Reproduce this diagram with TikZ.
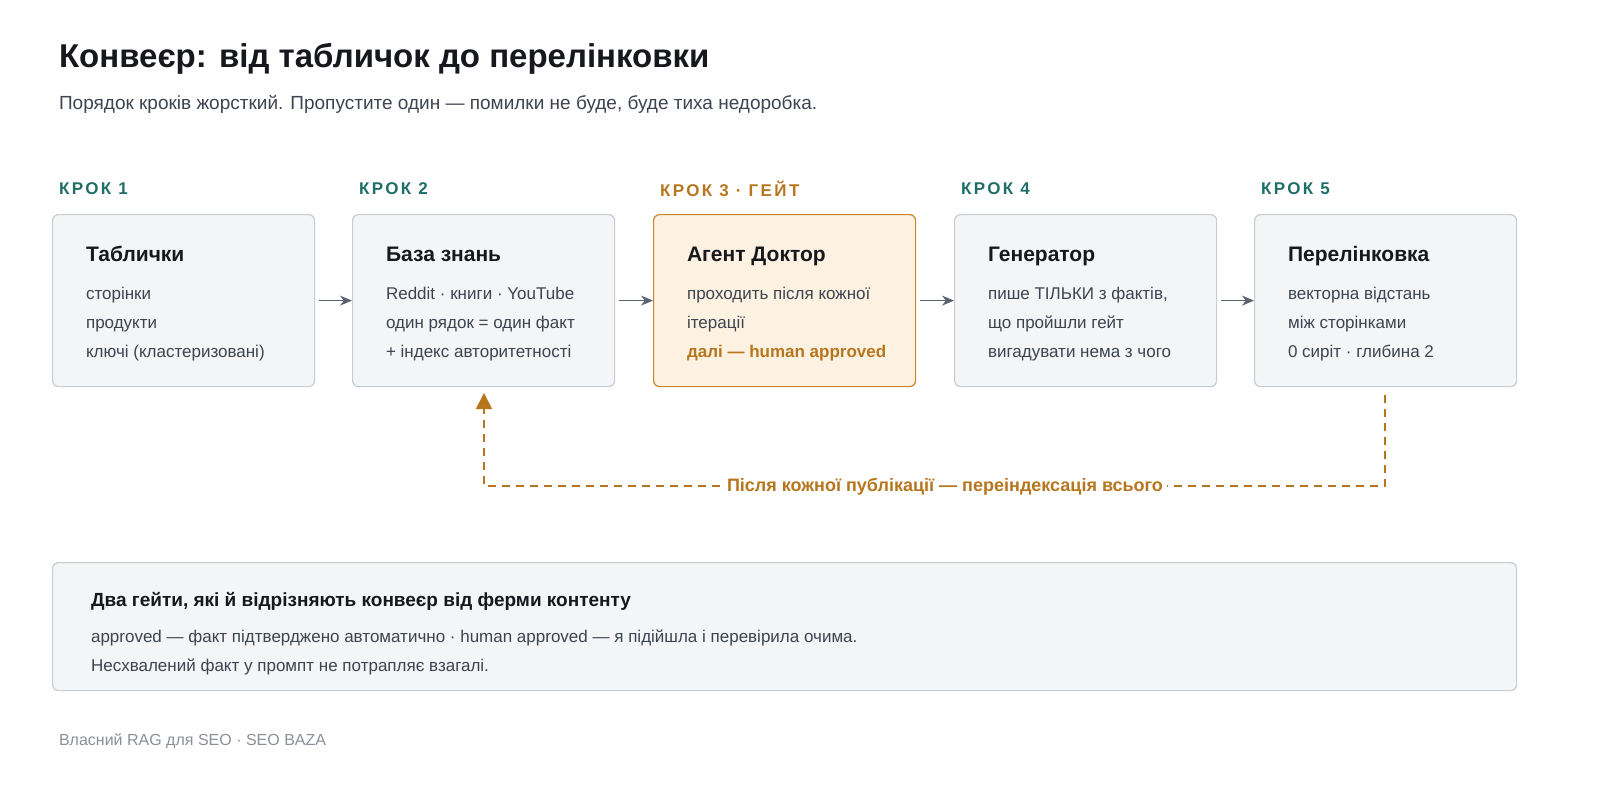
\documentclass[tikz,border=0pt]{standalone}
\usepackage{fontspec}
\setmainfont{Liberation Sans}
\newfontfamily\spaced[LetterSpace=14]{Liberation Sans}
\usetikzlibrary{arrows.meta}
\definecolor{ink}{HTML}{16181D}
\definecolor{txt}{HTML}{3D4450}
\definecolor{muted}{HTML}{8A9099}
\definecolor{teal}{HTML}{1F6E68}
\definecolor{ochre}{HTML}{B7761E}
\definecolor{boxfill}{HTML}{F4F5F7}
\definecolor{boxline}{HTML}{C8CCD3}
\definecolor{gatefill}{HTML}{FDF2E2}
\definecolor{gateline}{HTML}{C8862A}
\definecolor{arr}{HTML}{5A6270}
\tikzset{
  card/.style={draw=boxline, fill=boxfill, rounded corners=3pt, line width=0.6pt,
    minimum width=131pt, minimum height=86pt, anchor=north west},
  gate/.style={card, draw=gateline, fill=gatefill},
  lab/.style={anchor=west, text=teal, font=\spaced\bfseries\fontsize{8.5}{10}\selectfont},
  head/.style={anchor=base west, text=ink, font=\bfseries\fontsize{10.5}{12}\selectfont},
  body/.style={anchor=base west, text=txt, align=left, font=\fontsize{8.5}{14.5}\selectfont},
  flow/.style={-{Stealth[length=6pt,width=5pt]}, draw=arr, line width=0.8pt},
}
\begin{document}
\begin{tikzpicture}[x=0.5pt,y=-0.5pt]
  \useasboundingbox (0,0) rectangle (1600,800);
  \node[anchor=base west, text=ink, font=\bfseries\fontsize{16.5}{20}\selectfont] (title) at (52,67) {Конвеєр: від табличок до перелінковки};
  \node[anchor=base west, text=txt, font=\fontsize{9.5}{12}\selectfont] (sub) at (52,109) {Порядок кроків жорсткий. Пропустите один — помилки не буде, буде тиха недоробка.};
  % steps
  \node[card] (s1) at (52,214) {};
  \node[card] (s2) at (352,214) {};
  \node[gate] (s3) at (653,214) {};
  \node[card] (s4) at (954,214) {};
  \node[card] (s5) at (1254,214) {};
  \node[lab] (l1) at (52,189) {КРОК 1};
  \node[lab] (l2) at (352,189) {КРОК 2};
  \node[lab, text=ochre] (l3) at (653,189) {КРОК 3 · ГЕЙТ};
  \node[lab] (l4) at (954,189) {КРОК 4};
  \node[lab] (l5) at (1254,189) {КРОК 5};
  \node[head] at (79,261) {Таблички};
  \node[body] at (79,357) {сторінки\\продукти\\ключі (кластеризовані)};
  \node[head] at (379,261) {База знань};
  \node[body] at (379,357) {Reddit · книги · YouTube\\один рядок = один факт\\+ індекс авторитетності};
  \node[head] at (680,261) {Агент Доктор};
  \node[body] at (680,357) {проходить після кожної\\ітерації\\\textcolor{ochre}{\bfseries далі — human approved}};
  \node[head] at (981,261) {Генератор};
  \node[body] at (981,357) {пише ТІЛЬКИ з фактів,\\що пройшли гейт\\вигадувати нема з чого};
  \node[head] at (1281,261) {Перелінковка};
  \node[body] at (1281,357) {векторна відстань\\між сторінками\\0 сиріт · глибина 2};
  \foreach \a/\b in {s1/s2,s2/s3,s3/s4,s4/s5}
    \draw[flow] ([xshift=2pt]\a.east) -- (\b.west);
  % feedback
  \coordinate (fb) at (1385,395);
  \coordinate (fe) at (484,393);
  \draw[ochre, line width=0.8pt, dash pattern=on 4pt off 3pt, -{Triangle[length=8pt,width=8pt]}]
    (fb) -- (1385,486) -- (484,486) -- (fe);
  \node[fill=white, text=ochre, font=\bfseries\fontsize{9}{11}\selectfont, inner sep=2pt] (fbl) at (945,487) {Після кожної публікації — переіндексація всього};
  % note
  \node[card, minimum width=732pt, minimum height=64pt] (note) at (52,562) {};
  \node[anchor=base west, text=ink, font=\bfseries\fontsize{9.5}{12}\selectfont] at (84,606) {Два гейти, які й відрізняють конвеєр від ферми контенту};
  \node[body] at (84,671) {approved — факт підтверджено автоматично · human approved — я підійшла і перевірила очима.\\Несхвалений факт у промпт не потрапляє взагалі.};
  \node[anchor=base west, text=muted, font=\fontsize{8}{10}\selectfont] (foot) at (52,745) {Власний RAG для SEO · SEO BAZA};
\end{tikzpicture}
\end{document}
